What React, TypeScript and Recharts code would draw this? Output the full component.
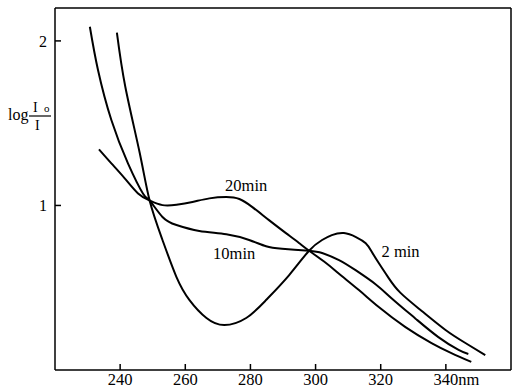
import { LineChart, Line, XAxis, YAxis, ReferenceDot } from "recharts";

// wavelength (nm) / absorbance readings per reaction time
const min2 = [
  { nm: 239.0, v: 2.05 },
  { nm: 241.6, v: 1.72 },
  { nm: 246.0, v: 1.32 },
  { nm: 249.05, v: 1.03 },
  { nm: 253.0, v: 0.79 },
  { nm: 257.3, v: 0.565 },
  { nm: 261.3, v: 0.425 },
  { nm: 266.5, v: 0.316 },
  { nm: 272.0, v: 0.273 },
  { nm: 278.7, v: 0.316 },
  { nm: 284.8, v: 0.425 },
  { nm: 291.9, v: 0.577 },
  { nm: 298.0, v: 0.725 },
  { nm: 302.0, v: 0.79 },
  { nm: 305.0, v: 0.82 },
  { nm: 308.7, v: 0.832 },
  { nm: 312.4, v: 0.808 },
  { nm: 315.4, v: 0.77 },
  { nm: 317.2, v: 0.72 },
  { nm: 319.4, v: 0.65 },
  { nm: 322.4, v: 0.56 },
  { nm: 326.0, v: 0.47 },
  { nm: 332.5, v: 0.36 },
  { nm: 339.9, v: 0.243 },
  { nm: 346.0, v: 0.164 },
  { nm: 352.1, v: 0.091 },
];

const min10 = [
  { nm: 230.7, v: 2.086 },
  { nm: 233.2, v: 1.823 },
  { nm: 237.3, v: 1.519 },
  { nm: 242.4, v: 1.256 },
  { nm: 247.0, v: 1.073 },
  { nm: 249.05, v: 1.03 },
  { nm: 253.0, v: 0.93 },
  { nm: 257.3, v: 0.881 },
  { nm: 264.3, v: 0.845 },
  { nm: 272.6, v: 0.825 },
  { nm: 279.6, v: 0.79 },
  { nm: 284.8, v: 0.752 },
  { nm: 289.7, v: 0.737 },
  { nm: 298.0, v: 0.725 },
  { nm: 302.0, v: 0.711 },
  { nm: 307.2, v: 0.668 },
  { nm: 312.4, v: 0.605 },
  { nm: 318.5, v: 0.52 },
  { nm: 323.4, v: 0.435 },
  { nm: 330.7, v: 0.312 },
  { nm: 337.7, v: 0.2 },
  { nm: 343.9, v: 0.122 },
  { nm: 346.9, v: 0.097 },
];

const min20 = [
  { nm: 233.5, v: 1.341 },
  { nm: 237.3, v: 1.256 },
  { nm: 241.4, v: 1.165 },
  { nm: 245.5, v: 1.073 },
  { nm: 249.05, v: 1.03 },
  { nm: 253.0, v: 1.002 },
  { nm: 257.3, v: 1.004 },
  { nm: 262.2, v: 1.021 },
  { nm: 267.4, v: 1.043 },
  { nm: 272.6, v: 1.051 },
  { nm: 276.6, v: 1.039 },
  { nm: 280.6, v: 0.99 },
  { nm: 285.7, v: 0.911 },
  { nm: 290.9, v: 0.832 },
  { nm: 294.9, v: 0.772 },
  { nm: 298.0, v: 0.725 },
  { nm: 303.2, v: 0.65 },
  { nm: 307.2, v: 0.585 },
  { nm: 313.3, v: 0.486 },
  { nm: 319.4, v: 0.383 },
  { nm: 327.6, v: 0.261 },
  { nm: 335.6, v: 0.164 },
  { nm: 341.7, v: 0.103 },
  { nm: 347.8, v: 0.049 },
];

const xTicks = [240, 260, 280, 300, 320, 340];
const yTicks = [1, 2];

const labels = [
  { text: "20min", nm: 278.7, v: 1.124 },
  { text: "10min", nm: 275.0, v: 0.711 },
  { text: "2 min", nm: 326.1, v: 0.723 },
];

const font = "Liberation Serif";
const axisStyle = { stroke: "#000", strokeWidth: 1.5 };

function XTick({ x, y, payload }: any) {
  const v = payload.value;
  return (
    <g fontSize={16.5} fill="#000">
      <text x={x} y={y + 15} textAnchor="middle">
        {v}
      </text>
      {v === 340 && (
        <text x={x + 12.5} y={y + 15} textAnchor="start">
          nm
        </text>
      )}
    </g>
  );
}

function YLabel() {
  return (
    <g fill="#000">
      <text x={8} y={120} fontSize={16}>
        log
      </text>
      <text x={33} y={112} fontSize={14}>
        I
      </text>
      <text x={44} y={112} fontSize={11}>
        o
      </text>
      <line x1={29} y1={116} x2={51} y2={116} stroke="#000" strokeWidth={1.2} />
      <text x={35} y={130} fontSize={14}>
        I
      </text>
    </g>
  );
}

export default function App() {
  return (
    <div style={{ position: "absolute", left: 0, top: 0, background: "#fff" }}>
      <style>{`.chart text { font-family: "${font}", "DejaVu Serif", serif !important; }`}</style>
      <LineChart className="chart" width={516} height={391} margin={{ top: 0, right: 0, bottom: 0, left: 0 }}>
        <XAxis
          dataKey="nm"
          type="number"
          domain={[220, 360]}
          ticks={xTicks}
          height={21}
          tickSize={-6}
          tickMargin={6}
          axisLine={axisStyle}
          tickLine={axisStyle}
          tick={<XTick />}
          allowDataOverflow
        />
        <XAxis
          xAxisId="top"
          orientation="top"
          dataKey="nm"
          type="number"
          domain={[220, 360]}
          ticks={[240]}
          height={8}
          tickSize={-6}
          axisLine={axisStyle}
          tickLine={axisStyle}
          tick={false}
          allowDataOverflow
        />
        <YAxis
          type="number"
          domain={[0, 2.2]}
          ticks={yTicks}
          width={55}
          tickSize={-6}
          tickMargin={14}
          axisLine={axisStyle}
          tickLine={axisStyle}
          tick={{ fill: "#000", fontSize: 16 }}
          label={{ content: () => <YLabel /> }}
          allowDataOverflow
        />
        <YAxis
          yAxisId="right"
          orientation="right"
          type="number"
          domain={[0, 2.2]}
          ticks={[1]}
          width={5}
          tickSize={-6}
          axisLine={axisStyle}
          tickLine={axisStyle}
          tick={false}
          allowDataOverflow
        />
        {[min2, min10, min20].map((d, i) => (
          <Line
            key={i}
            data={d}
            dataKey="v"
            type="natural"
            stroke="#000"
            strokeWidth={2}
            dot={false}
            activeDot={false}
            isAnimationActive={false}
          />
        ))}
        {labels.map((l) => (
          <ReferenceDot
            key={l.text}
            x={l.nm}
            y={l.v}
            r={0}
            stroke="none"
            fill="none"
            label={{
              value: l.text,
              position: "center",
              fill: "#000",
              fontSize: 16.5,
            }}
          />
        ))}
      </LineChart>
    </div>
  );
}
